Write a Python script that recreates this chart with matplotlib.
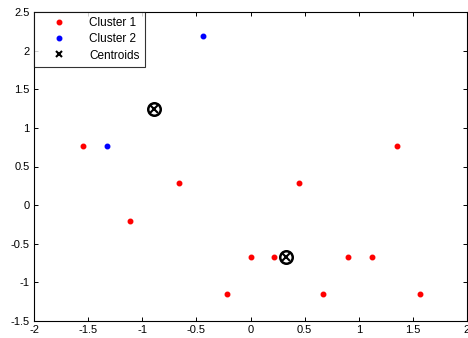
import matplotlib
matplotlib.use("Agg")
import matplotlib.pyplot as plt

plt.rcParams['font.family'] = ['Liberation Sans', 'DejaVu Sans']

c1_x = [-1.55, -1.11, -0.66, -0.22, 0.00, 0.22, 0.45, 0.67, 0.90, 1.12, 1.35, 1.57]
c1_y = [0.76, -0.20, 0.28, -1.15, -0.67, -0.67, 0.28, -1.15, -0.67, -0.67, 0.76, -1.15]
c2_x = [-1.33, -0.44]
c2_y = [0.76, 2.19]
cent_x = [0.33, -0.89]
cent_y = [-0.67, 1.24]

xticks = [-2, -1.5, -1, -0.5, 0, 0.5, 1, 1.5, 2]
yticks = [-1.5, -1, -0.5, 0, 0.5, 1, 1.5, 2, 2.5]

fig = plt.figure(figsize=(4.68, 3.38), dpi=100)
ax = fig.add_axes([34/468, 1 - 321/338, (467-34)/468, (321-12)/338])

ax.plot(c1_x, c1_y, '.', color='red', markersize=6.5, label='Cluster 1')
ax.plot(c2_x, c2_y, '.', color='blue', markersize=6.5, label='Cluster 2')
ax.plot(cent_x, cent_y, 'x', color='black', markersize=6, mew=1.5, label='Centroids')
ax.plot(cent_x, cent_y, 'o', markerfacecolor='none', markeredgecolor='black', markersize=9, mew=1.8)

ax.set_xlim(-2, 2)
ax.set_ylim(-1.5, 2.5)
ax.set_xticks(xticks)
ax.set_yticks(yticks)
ax.set_xticklabels([f'{t:g}' for t in xticks])
ax.set_yticklabels([f'{t:g}' for t in yticks])
ax.tick_params(direction='in', top=True, right=True, labelsize=8, length=3, width=0.7, pad=3)
for s in ax.spines.values():
    s.set_linewidth(0.8)

leg = ax.legend(loc='upper left', fontsize=8.5, frameon=True, fancybox=False, edgecolor='black',
                borderaxespad=0, handletextpad=0.8, borderpad=0.45, labelspacing=0.35, handlelength=3.4)
leg.get_frame().set_linewidth(0.8)
for h in leg.legend_handles:
    if h.get_marker() == 'x':
        h.set_markersize(4.5)

fig.savefig('out.png', dpi=100)
